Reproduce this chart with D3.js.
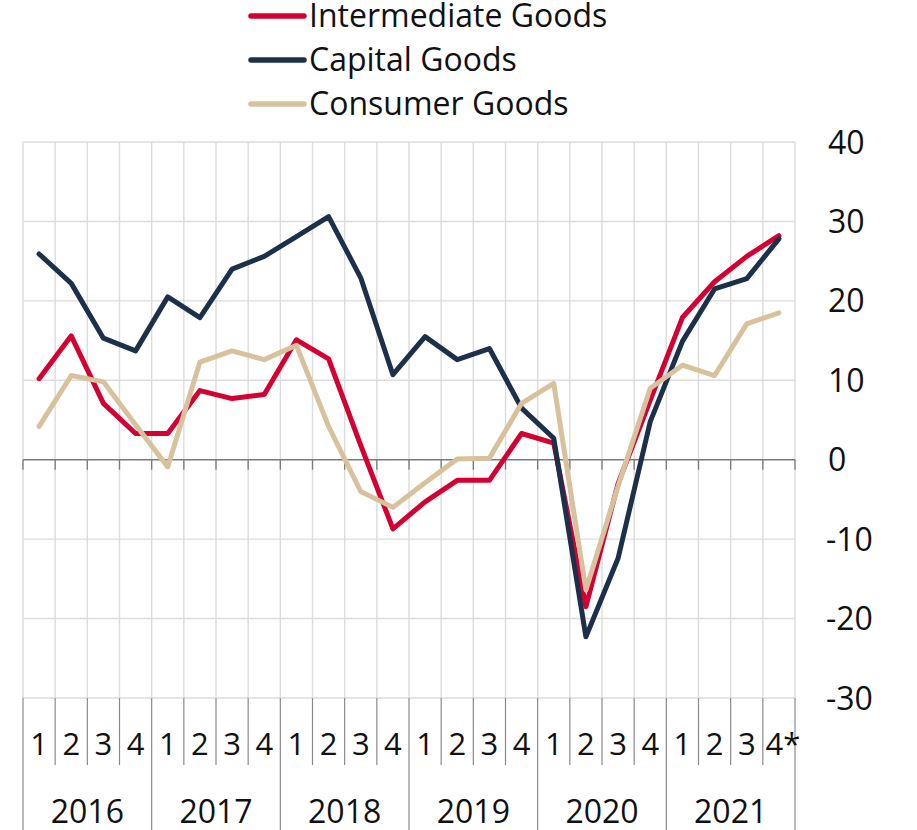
<!DOCTYPE html>
<html><head><meta charset="utf-8">
<script src="https://cdn.jsdelivr.net/npm/d3@7/dist/d3.min.js"></script>
<style>body{margin:0;background:#fff;}svg{display:block;font-family:"Open Sans",sans-serif;}</style>
</head><body>
<svg id="c" width="917" height="830"></svg>
<script>
const years = ["2016","2017","2018","2019","2020","2021"];
const quarterLabels = ["1","2","3","4","1","2","3","4","1","2","3","4","1","2","3","4","1","2","3","4","1","2","3","4*"];
const yTicks = [-30,-20,-10,0,10,20,30,40];
const seriesNames = ["Intermediate Goods","Capital Goods","Consumer Goods"];
const seriesColors = ["#d50032","#1c3049","#d8c29d"];
const intermediate = [10.2,15.6,7.1,3.3, 3.3,8.7,7.7,8.2, 15.1,12.7,1.8,-8.7, -5.3,-2.6,-2.6,3.3, 2.1,-18.5,-3.0,7.5, 17.9,22.4,25.6,28.2];
const capital      = [25.9,22.2,15.3,13.7, 20.5,17.9,24.0,25.6, 28.1,30.6,22.9,10.7, 15.5,12.6,14.0,6.5, 2.7,-22.3,-12.4,4.8, 14.9,21.5,22.8,27.8];
const consumer     = [4.2,10.6,9.8,4.4, -0.9,12.3,13.7,12.6, 14.4,4.2,-4.0,-6.0, -2.9,0.1,0.2,7.1, 9.6,-16.4,-3.3,9.0, 11.9,10.6,17.1,18.5];
const seriesValues = [intermediate, capital, consumer];

const svg = d3.select("#c");
const L = 23, R = 795, T = 142, B = 698;
const idx = d3.range(quarterLabels.length);
const x = d3.scaleBand().domain(idx).range([L, R]);
const y = d3.scaleLinear().domain([-30, 40]).range([B, T]);
const bw = x.bandwidth();

// horizontal gridlines
svg.append("g").selectAll("line").data(yTicks.filter(d => d !== 0)).join("line")
  .attr("x1", L).attr("x2", R).attr("y1", d => y(d)).attr("y2", d => y(d))
  .attr("stroke", "#dcdcdc").attr("stroke-width", 1.4);
// vertical gridlines
const bounds = d3.range(quarterLabels.length + 1).map(i => L + i * bw);
svg.append("g").selectAll("line").data(bounds).join("line")
  .attr("x1", d => d).attr("x2", d => d).attr("y1", T).attr("y2", B)
  .attr("stroke", "#dcdcdc").attr("stroke-width", 1.4);

// zero axis with ticks
svg.append("line").attr("x1", L).attr("x2", R).attr("y1", y(0)).attr("y2", y(0))
  .attr("stroke", "#7a7a7a").attr("stroke-width", 1.5);
svg.append("g").selectAll("line").data(bounds).join("line")
  .attr("x1", d => d).attr("x2", d => d).attr("y1", y(0)).attr("y2", y(0) + 10)
  .attr("stroke", "#7a7a7a").attr("stroke-width", 1.3);

// category axis separators
svg.append("g").selectAll("line").data(bounds).join("line")
  .attr("x1", d => d).attr("x2", d => d).attr("y1", B)
  .attr("y2", (d, i) => (i % 4 === 0) ? 830 : 765)
  .attr("stroke", "#8a8a8a").attr("stroke-width", 1.2);

// quarter labels
svg.append("g").selectAll("text").data(quarterLabels).join("text")
  .attr("x", (d, i) => x(i) + bw / 2 + (d.length > 1 ? 4 : 0))
  .attr("y", 755).attr("text-anchor", "middle")
  .attr("font-size", 31).attr("fill", "#111").text(d => d);
// year labels
svg.append("g").selectAll("text").data(years).join("text")
  .attr("x", (d, i) => x(i * 4) + bw * 2)
  .attr("y", 823).attr("text-anchor", "middle")
  .attr("font-size", 32).attr("fill", "#111").text(d => d);

// y tick labels on right
svg.append("g").selectAll("text").data(yTicks).join("text")
  .attr("x", d => d < 0 ? 826 : 828).attr("y", d => y(d) + 11.5)
  .attr("font-size", 32).attr("fill", "#111").text(d => d);

// lines
const line = d3.line().x((d, i) => x(i) + bw / 2).y(d => y(d));
seriesValues.forEach((vals, s) => {
  svg.append("path").datum(vals).attr("d", line)
    .attr("fill", "none").attr("stroke", seriesColors[s]).attr("stroke-width", 5)
    .attr("stroke-linejoin", "round").attr("stroke-linecap", "round");
});

// legend
const legY = [16, 60, 104];
seriesNames.forEach((n, s) => {
  svg.append("line").attr("x1", 251).attr("x2", 304).attr("y1", legY[s]).attr("y2", legY[s])
    .attr("stroke", seriesColors[s]).attr("stroke-width", 5.5).attr("stroke-linecap", "round");
  svg.append("text").attr("x", 309).attr("y", legY[s] + 11)
    .attr("font-size", 32).attr("fill", "#111").text(n);
});
</script>
</body></html>
